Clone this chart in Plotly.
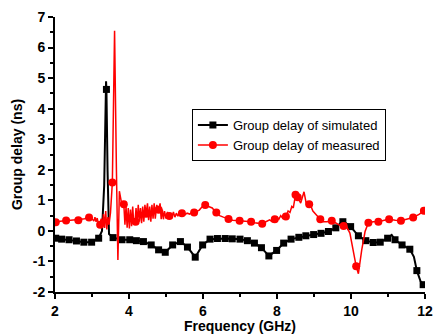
import plotly.graph_objects as go

# Simulated group delay (line) and its marker points
sim_freq = [2.0, 2.02, 2.18, 2.38, 2.58, 2.78, 2.99, 3.18, 3.27, 3.33, 3.38, 3.39, 3.42, 3.46, 3.57,
            3.81, 4.02, 4.2, 4.39, 4.6, 4.8, 4.98, 5.18, 5.39, 5.58, 5.79, 5.99, 6.19, 6.39, 6.6,
            6.79, 7.0, 7.2, 7.39, 7.58, 7.78, 7.99, 8.18, 8.38, 8.59, 8.78, 8.99, 9.19, 9.39, 9.59,
            9.78, 9.99, 10.2, 10.4, 10.6, 10.79, 10.99, 11.1, 11.19, 11.38, 11.59, 11.7, 11.78,
            11.88, 11.95, 12.0]
sim_delay = [-0.22, -0.24, -0.27, -0.29, -0.33, -0.37, -0.37, -0.24, 0.0, 1.5, 4.9, 4.63, 2.0, -0.1, -0.22,
             -0.29, -0.29, -0.32, -0.35, -0.46, -0.62, -0.7, -0.46, -0.35, -0.53, -0.86, -0.46, -0.27, -0.25, -0.25,
             -0.26, -0.27, -0.32, -0.4, -0.55, -0.82, -0.64, -0.4, -0.27, -0.21, -0.16, -0.12, -0.08, -0.02, 0.1,
             0.33, 0.14, -0.16, -0.32, -0.38, -0.37, -0.24, -0.13, -0.29, -0.46, -0.6, -0.85, -1.3,
             -1.65, -1.76, -1.75]
sim_mark_freq = [2.02, 2.18, 2.38, 2.58, 2.78, 2.99, 3.18, 3.39, 3.57, 3.81, 4.02, 4.2, 4.39, 4.6, 4.8,
                 4.98, 5.18, 5.39, 5.58, 5.79, 5.99, 6.19, 6.39, 6.6, 6.79, 7.0, 7.2, 7.39, 7.58, 7.78,
                 7.99, 8.18, 8.38, 8.59, 8.78, 8.99, 9.19, 9.39, 9.59, 9.78, 9.99, 10.2, 10.4, 10.6,
                 10.79, 10.99, 11.19, 11.38, 11.59, 11.78, 11.95]
sim_mark_delay = [-0.24, -0.27, -0.29, -0.33, -0.37, -0.37, -0.24, 4.63, -0.22, -0.29, -0.29, -0.32, -0.35, -0.46, -0.62,
                  -0.7, -0.46, -0.35, -0.53, -0.86, -0.46, -0.27, -0.25, -0.25, -0.26, -0.27, -0.32, -0.4, -0.55, -0.82,
                  -0.64, -0.4, -0.27, -0.21, -0.16, -0.12, -0.08, -0.02, 0.1, 0.3, 0.14, -0.16, -0.32, -0.38,
                  -0.37, -0.24, -0.29, -0.46, -0.6, -1.3, -1.76]

# Measured group delay (line) and its marker points
meas_freq = [2.0, 2.1, 2.2, 2.3, 2.4, 2.5, 2.6, 2.7, 2.8, 2.9, 2.95, 3.0, 3.05, 3.08, 3.11, 3.14, 3.17,
             3.21, 3.25, 3.28, 3.31, 3.34, 3.37, 3.40, 3.43, 3.46, 3.50, 3.55, 3.61, 3.66, 3.70, 3.74,
             3.80, 3.86, 3.89, 3.92, 3.95, 3.98, 4.01, 4.04, 4.07, 4.10, 4.13, 4.16, 4.19, 4.22, 4.25,
             4.28, 4.31, 4.34, 4.37, 4.40, 4.43, 4.46, 4.50, 4.53, 4.56, 4.59, 4.62, 4.65, 4.68, 4.71,
             4.75, 4.80, 4.84, 4.87, 4.90, 4.93, 4.96, 5.00, 5.04, 5.08, 5.12, 5.16, 5.20, 5.24, 5.28,
             5.32, 5.36, 5.43, 5.50, 5.57, 5.64, 5.70, 5.76, 5.82, 5.90, 5.97, 6.06, 6.15, 6.25, 6.35,
             6.45, 6.55, 6.69, 6.8, 6.9, 6.99, 7.1, 7.2, 7.3, 7.4, 7.5, 7.6, 7.7, 7.8, 7.87, 7.94,
             8.0, 8.05, 8.1, 8.15, 8.2, 8.24, 8.3, 8.35, 8.4, 8.44, 8.5, 8.56, 8.6, 8.64, 8.73, 8.79,
             8.87, 8.92, 8.97, 9.03, 9.08, 9.12, 9.17, 9.25, 9.35, 9.48, 9.6, 9.7, 9.8, 9.88, 9.97,
             10.06, 10.14, 10.2, 10.29, 10.38, 10.47, 10.6, 10.74, 10.9, 11.03, 11.2, 11.35, 11.5,
             11.68, 11.85, 11.97]
meas_delay = [0.30, 0.31, 0.33, 0.34, 0.33, 0.34, 0.35, 0.38, 0.40, 0.44, 0.45, 0.40, 0.32, 0.45, 0.30, 0.42, 0.25,
              0.22, 0.40, 0.15, 0.55, 0.10, 0.65, 0.05, 0.45, 0.20, 0.60, 1.58, 6.55, 2.0, -0.95, 1.30,
              0.90, 0.87, 0.20, 0.80, 0.10, 0.75, 0.08, 0.70, 0.15, 0.80, 0.20, 0.25, 0.75, 0.25, 0.85,
              0.30, 0.75, 0.25, 0.80, 0.30, 0.85, 0.56, 0.90, 0.35, 0.80, 0.30, 0.85, 0.40, 0.90, 0.40,
              0.85, 0.69, 0.90, 0.38, 0.70, 0.38, 0.65, 0.40, 0.62, 0.49, 0.58, 0.42, 0.62, 0.45, 0.58,
              0.48, 0.60, 0.58, 0.52, 0.58, 0.55, 0.60, 0.60, 0.63, 0.68, 0.78, 0.85, 0.80, 0.75, 0.60,
              0.50, 0.45, 0.39, 0.35, 0.34, 0.33, 0.31, 0.32, 0.30, 0.27, 0.25, 0.23, 0.30, 0.36, 0.30, 0.38,
              0.45, 0.38, 0.50, 0.42, 0.55, 0.47, 0.65, 0.60, 0.80, 0.75, 1.18, 1.10, 1.0, 0.91, 1.28, 0.90,
              0.87, 0.80, 0.65, 0.58, 0.50, 0.45, 0.38, 0.30, 0.30, 0.33, 0.25, 0.18, 0.16, 0.14, -0.07,
              -0.62, -1.16, -1.40, -0.62, -0.02, 0.27, 0.30, 0.30, 0.35, 0.38, 0.35, 0.33, 0.38,
              0.44, 0.55, 0.66]
meas_mark_freq = [2.02, 2.3, 2.63, 2.92, 3.22, 3.55, 3.86, 4.18, 4.46, 4.8, 5.09, 5.43, 5.76, 6.06, 6.36,
                  6.69, 6.99, 7.3, 7.6, 7.94, 8.24, 8.5, 8.56, 8.87, 9.17, 9.48, 9.8, 10.14, 10.47, 10.74,
                  11.03, 11.35, 11.68, 11.97]
meas_mark_delay = [0.28, 0.34, 0.35, 0.44, 0.2, 1.58, 0.87, 0.3, 0.56, 0.69, 0.49, 0.58, 0.6, 0.85, 0.6,
                   0.39, 0.33, 0.3, 0.23, 0.38, 0.47, 1.18, 1.1, 0.87, 0.38, 0.33, 0.16, -1.16, 0.27, 0.3,
                   0.38, 0.33, 0.44, 0.66]

x_ticks = [2, 4, 6, 8, 10, 12]
y_ticks = [-2, -1, 0, 1, 2, 3, 4, 5, 6, 7]

BLACK = "#000000"
RED = "#ff0000"

fig = go.Figure()
fig.add_trace(go.Scatter(x=sim_freq, y=sim_delay, mode="lines",
                         line=dict(color=BLACK, width=2), showlegend=False, hoverinfo="skip"))
fig.add_trace(go.Scatter(x=sim_mark_freq, y=sim_mark_delay, mode="markers",
                         marker=dict(symbol="square", size=7, color=BLACK), showlegend=False))
fig.add_trace(go.Scatter(x=meas_freq, y=meas_delay, mode="lines",
                         line=dict(color=RED, width=1.5), showlegend=False, hoverinfo="skip"))
fig.add_trace(go.Scatter(x=meas_mark_freq, y=meas_mark_delay, mode="markers",
                         marker=dict(symbol="circle", size=8, color=RED), showlegend=False))
# legend entries
fig.add_trace(go.Scatter(x=[None], y=[None], mode="lines+markers", name="Group delay of simulated",
                         line=dict(color=BLACK, width=2), marker=dict(symbol="square", size=7, color=BLACK)))
fig.add_trace(go.Scatter(x=[None], y=[None], mode="lines+markers", name="Group delay of measured",
                         line=dict(color=RED, width=1.5), marker=dict(symbol="circle", size=8, color=RED)))

axis_font = dict(family="Liberation Sans, Arial, sans-serif", size=14, color="black", weight="bold")
tick_font = dict(family="Liberation Sans, Arial, sans-serif", size=14, color="black", weight="bold")

fig.update_layout(
    width=439, height=334,
    margin=dict(l=55, r=14, t=17, b=42, autoexpand=False),
    paper_bgcolor="white", plot_bgcolor="white",
    showlegend=True,
    legend=dict(x=0.37, y=0.665, xanchor="left", yanchor="top",
                bordercolor="black", borderwidth=1, bgcolor="white",
                font=dict(family="Liberation Sans, Arial, sans-serif", size=13, color="black"),
                tracegroupgap=0, itemwidth=30),
    xaxis=dict(range=[2, 12], tickvals=x_ticks, ticktext=[str(v) for v in x_ticks],
               automargin=False,
               showgrid=False, zeroline=False, showline=True, linecolor="black", linewidth=2,
               ticks="outside", ticklen=5, tickwidth=2, tickcolor="black",
               minor=dict(dtick=1, ticks="outside", ticklen=3, tickwidth=1.5, tickcolor="black"),
               tickfont=tick_font,
               title=dict(text="Frequency (GHz)", font=axis_font, standoff=4)),
    yaxis=dict(range=[-2, 7], tickvals=y_ticks, ticktext=[str(v) for v in y_ticks],
               automargin=False,
               showgrid=False, zeroline=False, showline=True, linecolor="black", linewidth=2,
               ticks="outside", ticklen=5, tickwidth=2, tickcolor="black",
               minor=dict(dtick=0.5, ticks="outside", ticklen=3, tickwidth=1.5, tickcolor="black"),
               tickfont=tick_font,
               title=dict(text="Group delay (ns)", font=axis_font, standoff=7)),
)

fig.write_html("out.html", config={"displayModeBar": False},
               post_script="document.body.style.margin='0';document.body.style.overflow='hidden';")
